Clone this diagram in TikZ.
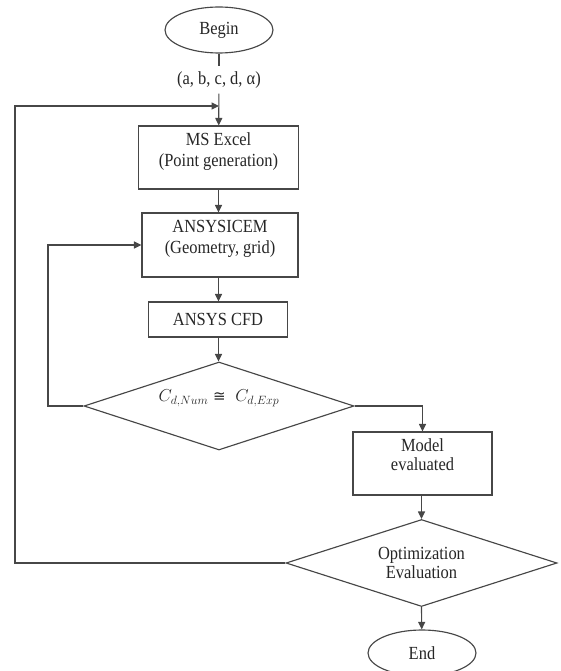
\documentclass[tikz,border=0pt]{standalone}
\usepackage{fontspec}
\setmainfont[FakeStretch=0.89]{Liberation Serif}
\newfontfamily\symfnt{DejaVu Sans}
\usetikzlibrary{shapes.geometric,arrows.meta}
\newcommand{\liftup}[2]{\raisebox{#1}[\height][\depth]{#2}}
\newcommand{\twolines}[2]{\begin{tabular}{@{}c@{}}#1\\#2\end{tabular}}
\newcommand{\approxeqsym}{\mathrel{\hbox{\symfnt\fontsize{15}{15}\selectfont ≅}}}
\begin{document}
\begin{tikzpicture}[x=1pt,y=-1pt,
  every node/.style={font=\fontsize{18.5}{21}\selectfont, text=black!85},
  conn/.style={draw=black!72, line width=1.15pt},
  arr/.style={conn, -{Triangle[length=7.5pt,width=7pt]}},
  term/.style={ellipse, draw=black!72, line width=1.15pt, minimum width=108pt, minimum height=46pt, inner sep=0pt},
  proc/.style={rectangle, draw=black!72, line width=1.15pt, inner sep=0pt},
  dec/.style={diamond, aspect=3.1, draw=black!72, line width=1.15pt, inner sep=0pt, minimum width=270pt, minimum height=88pt}
]
\useasboundingbox (0,0) rectangle (560,671);

% main column
\node[term] (begin) at (219,30) {Begin};
\node[inner xsep=2pt, inner ysep=5pt] (params) at (219,80) {(a, b, c, d, α)};
\coordinate (join) at (219,106);
\node[proc, minimum width=160pt, minimum height=63pt] (excel) at (218.5,157.5)
  {\liftup{6pt}{\twolines{MS Excel}{(Point generation)}}};
\node[proc, minimum width=156pt, minimum height=64pt] (icem) at (220,245)
  {\liftup{6pt}{\twolines{ANSYSICEM}{(Geometry, grid)}}};
\node[proc, minimum width=139pt, minimum height=35pt] (cfd) at (218,319.5) {ANSYS CFD};
\node[dec] (d1) at (219,406) {\liftup{8pt}{$C_{d,Num}\approxeqsym\;C_{d,Exp}$}};

% right column
\node[proc, minimum width=139pt, minimum height=63pt, font=\fontsize{18.5}{18.5}\selectfont] (model) at (422.5,463.5)
  {\liftup{6pt}{\twolines{Model}{evaluated}}};
\node[dec, minimum width=271pt, minimum height=87pt, align=center, font=\fontsize{18.5}{19}\selectfont] (d2) at (421.5,563)
  {Optimization\\Evaluation};
\node[term] (end) at (422,653) {End};

% loop corners
\coordinate (innerloop) at (48,406);
\coordinate (outerloop) at (15,563);

% connectors
\draw[conn] (begin) -- (params);
\draw[arr] (params) -- (excel);
\draw[arr] (excel) -- (icem.north -| excel);
\draw[arr] (icem.south -| excel) -- (cfd.north -| excel);
\draw[arr] (cfd.south -| excel) -- (d1.north -| excel);
\draw[arr] (d1.east) -| (model.north);
\draw[arr] (model.south -| d2) -- (d2.north);
\draw[arr] (d2.south) -- (end);
\draw[arr] (d1.west) -- (innerloop) |- (icem.west);
\draw[arr] (d2.west) -- (outerloop) |- (join);
\end{tikzpicture}
\end{document}
